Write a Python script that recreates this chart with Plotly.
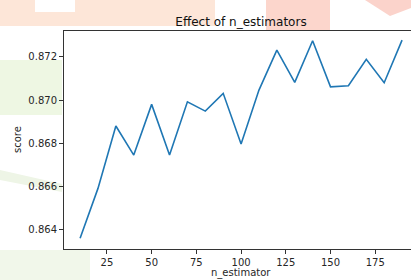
import plotly.graph_objects as go

n_estimators = [10, 20, 30, 40, 50, 60, 70, 80, 90, 100,
                110, 120, 130, 140, 150, 160, 170, 180, 190]
scores = [0.86362, 0.86592, 0.86880, 0.86746, 0.86980, 0.86746, 0.86992,
          0.86949, 0.87031, 0.86797, 0.87046, 0.87231, 0.87082, 0.87274,
          0.87061, 0.87066, 0.87188, 0.87080, 0.87277]
x_ticks = [25, 50, 75, 100, 125, 150, 175]
y_ticks = [0.864, 0.866, 0.868, 0.870, 0.872]

FONT = "DejaVu Sans"
W, H = 411, 280
L, T, B = 64, 31, 31
PW, PH = W - L, H - T - B


def px(x):
    return (x - L) / PW


def py(y):
    return (H - B - y) / PH


fig = go.Figure()
fig.add_trace(go.Scatter(x=n_estimators, y=scores, mode="lines",
                         line=dict(color="#1f77b4", width=1.6),
                         hoverinfo="skip", showlegend=False))

# faint watermark blobs in the background
shapes = [
    dict(type="rect", xref="paper", yref="paper", x0=px(0), x1=px(215), y0=py(26), y1=py(0),
         fillcolor="#fde6d8", line_width=0, layer="below"),
    dict(type="rect", xref="paper", yref="paper", x0=px(35), x1=px(75), y0=py(12), y1=py(0),
         fillcolor="#ffffff", line_width=0, layer="below"),
    dict(type="rect", xref="paper", yref="paper", x0=px(266), x1=px(330), y0=py(31), y1=py(0),
         fillcolor="#fcd6cc", line_width=0, layer="below"),
    dict(type="path", xref="paper", yref="paper",
         path=f"M {px(365)} {py(0)} L {px(411)} {py(0)} L {px(411)} {py(8)} L {px(390)} {py(16)} Z",
         fillcolor="#fbd3cb", line_width=0, layer="below"),
    dict(type="rect", xref="paper", yref="paper", x0=px(0), x1=px(62), y0=py(115), y1=py(60),
         fillcolor="#eef7e3", line_width=0, layer="below"),
    dict(type="path", xref="paper", yref="paper",
         path=f"M {px(0)} {py(170)} L {px(62)} {py(184)} L {px(62)} {py(192)} L {px(0)} {py(180)} Z",
         fillcolor="#eef5e6", line_width=0, layer="below"),
    dict(type="rect", xref="paper", yref="paper", x0=px(0), x1=px(90), y0=py(280), y1=py(250),
         fillcolor="#f1f7ea", line_width=0, layer="below"),
]

annotations = [
    dict(text="n_estimator", xref="paper", yref="paper", x=px(241), y=py(273),
         xanchor="center", yanchor="middle", showarrow=False,
         font=dict(family=FONT, size=10, color="#262626")),
    dict(text="score", xref="paper", yref="paper", x=px(17), y=py(140),
         xanchor="center", yanchor="middle", textangle=-90, showarrow=False,
         font=dict(family=FONT, size=10, color="#262626")),
]

fig.update_layout(
    width=W, height=H,
    margin=dict(l=L, r=0, t=T, b=B, autoexpand=False),
    paper_bgcolor="white", plot_bgcolor="white",
    font=dict(family=FONT, size=10, color="#262626"),
    title=dict(text="Effect of n_estimators", x=px(241), xref="paper", xanchor="center",
               y=1 - 21.5 / H, yanchor="middle",
               font=dict(family=FONT, size=12, color="#111")),
    shapes=shapes,
    annotations=annotations,
    xaxis=dict(range=[1, 195], tickvals=x_ticks, ticktext=[str(v) for v in x_ticks],
               showgrid=False, zeroline=False, showline=True, linecolor="#333",
               linewidth=1, mirror=True, ticks="outside", ticklen=4, tickcolor="#333",
               automargin=False),
    yaxis=dict(range=[0.86312, 0.87319], tickvals=y_ticks,
               ticktext=[f"{v:.3f}" for v in y_ticks],
               showgrid=False, zeroline=False, showline=True, linecolor="#333",
               linewidth=1, mirror=False, ticks="outside", ticklen=4, tickcolor="#333",
               automargin=False),
)

fig.write_html("out.html", config={"staticPlot": True},
               post_script="document.body.style.margin='0';document.body.style.overflow='hidden';")
